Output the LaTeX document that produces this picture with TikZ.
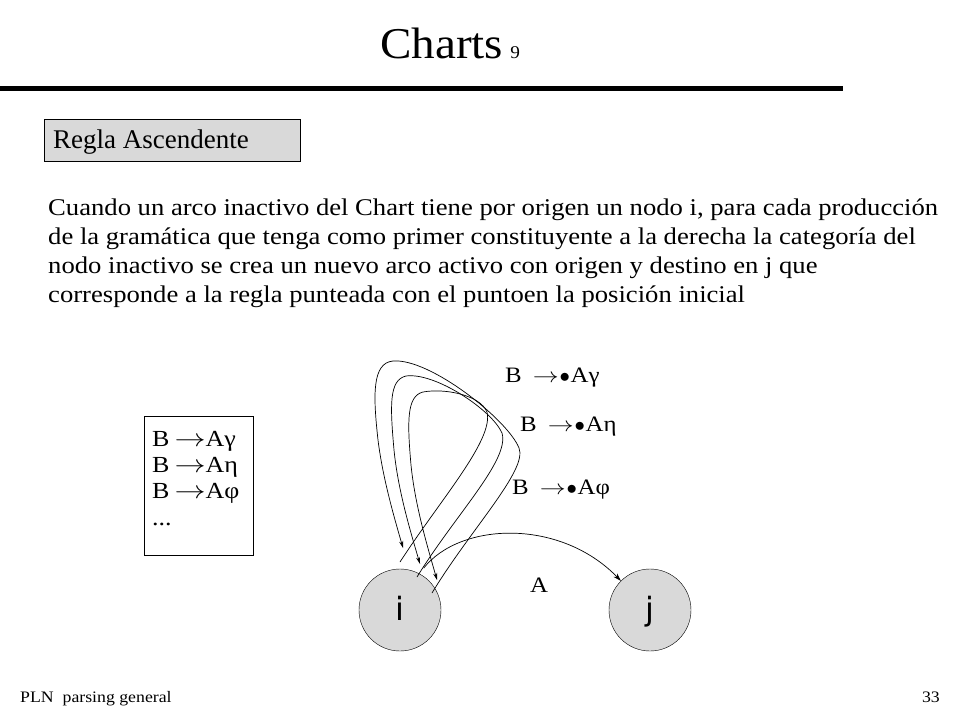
\documentclass[tikz,border=0pt]{standalone}
\usepackage{fontspec}
\usepackage{graphicx}
\setmainfont{Liberation Serif}
\newfontfamily\widefont[FakeStretch=1.11]{Liberation Serif}
\newfontfamily\rulefont[FakeStretch=1.13]{Liberation Serif}
\newfontfamily\titlefont[FakeStretch=1.07]{Liberation Serif}
\newfontfamily\nodefont{DejaVu Sans}
\usetikzlibrary{arrows.meta}
\newcommand{\rarr}{\scalebox{1.25}[1]{$\rightarrow$}}
\begin{document}
\begin{tikzpicture}[x=1pt,y=-1pt,
  txt/.style={inner sep=0pt,anchor=base west,font=\widefont\fontsize{24}{28}\selectfont},
  rule/.style={inner sep=0pt,anchor=base west,font=\rulefont\fontsize{22}{26}\selectfont},
  boxrule/.style={inner sep=0pt,anchor=base west,font=\rulefont\fontsize{23}{26}\selectfont},
  gnode/.style={circle,draw,fill=black!15,minimum size=82pt,inner sep=0pt,text height=23pt,text depth=3pt,font=\nodefont\fontsize{32}{36}\selectfont},
  loop/.style={-{Stealth[length=7pt,width=4pt]},line width=0.7pt},
  arc/.style={-{Stealth[length=8pt,width=5pt]},line width=0.7pt}]
\useasboundingbox (0,0) rectangle (960,720);
% title
\node[inner sep=0pt,anchor=base west,font=\titlefont\fontsize{44}{48}\selectfont] (title) at (380,58) {Charts\,{\fontsize{18}{20}\selectfont 9}};
\fill (0,86) rectangle (843,91);
% regla box
\node[draw,fill=black!15,minimum width=256pt,minimum height=42pt,inner sep=0pt,anchor=north west] (regla) at (44,119) {};
\node[inner sep=0pt,anchor=base west,font=\fontsize{27}{30}\selectfont] (reglatxt) at (53,148) {Regla Ascendente};
% paragraph
\node[txt] (p1) at (48,215) {Cuando un arco inactivo del Chart tiene por origen un nodo i, para cada producción};
\node[txt] (p2) at (48,244) {de la gramática que tenga como primer constituyente a la derecha la categoría del};
\node[txt] (p3) at (48,273) {nodo inactivo se crea un nuevo arco activo con origen y destino en j que};
\node[txt] (p4) at (48,302) {corresponde a la regla punteada con el puntoen la posición inicial};
% grammar box
\node[draw,minimum width=109pt,minimum height=139pt,inner sep=0pt,anchor=north west] (gbox) at (144,416) {};
\node[boxrule] (g1) at (152,446) {B\hspace{5pt}\rarr Aγ};
\node[boxrule] (g2) at (152,472) {B\hspace{5pt}\rarr Aη};
\node[boxrule] (g3) at (152,498) {B\hspace{5pt}\rarr Aφ};
\node[boxrule] (g4) at (152,525) {...};
% nodes
\node[gnode] (i) at (400,610) {i};
\node[gnode] (j) at (650,610) {j};
% labels
\node[rule] (l1) at (505,382) {B\hspace{11pt}\rarr\kern1pt$\bullet$\kern0.5pt Aγ};
\node[rule] (l2) at (520,431) {B\hspace{11pt}\rarr\kern1pt$\bullet$\kern0.5pt Aη};
\node[rule] (l3) at (512,494) {B\hspace{11pt}\rarr\kern1pt$\bullet$\kern0.5pt Aφ};
\node[rule] (la) at (530,592) {A};
% loops
\coordinate (d1) at (432,593); \coordinate (a1) at (403,548);
\coordinate (d2) at (417,577); \coordinate (a2) at (420,564);
\coordinate (d3) at (400,562); \coordinate (a3) at (437,580);
\draw[loop] (d1) .. controls (470,530) and (528,470) .. (519,448)
  .. controls (508,420) and (430,358) .. (393,361)
  .. controls (372,363) and (373,395) .. (378,440)
  .. controls (383,480) and (395,520) .. (a1);
\draw[loop] (d2) .. controls (455,515) and (510,460) .. (502,433)
  .. controls (492,410) and (435,372) .. (406,376)
  .. controls (389,380) and (390,405) .. (394,450)
  .. controls (398,490) and (410,530) .. (a2);
\draw[loop] (d3) .. controls (440,500) and (494,440) .. (487,412)
  .. controls (480,395) and (445,388) .. (423,392)
  .. controls (407,396) and (407,420) .. (411,465)
  .. controls (415,505) and (427,545) .. (a3);
% arc A
\draw[arc,shorten <=7pt] (i.62) .. controls (460,522) and (560,518) .. (j.135);
\node[inner sep=0pt,anchor=base west,font=\widefont\fontsize{16}{18}\selectfont] (foot) at (20,702) {PLN\ \ parsing general};
\node[inner sep=0pt,anchor=base east,font=\widefont\fontsize{16}{18}\selectfont] (page) at (940,702) {33};
\end{tikzpicture}
\end{document}
